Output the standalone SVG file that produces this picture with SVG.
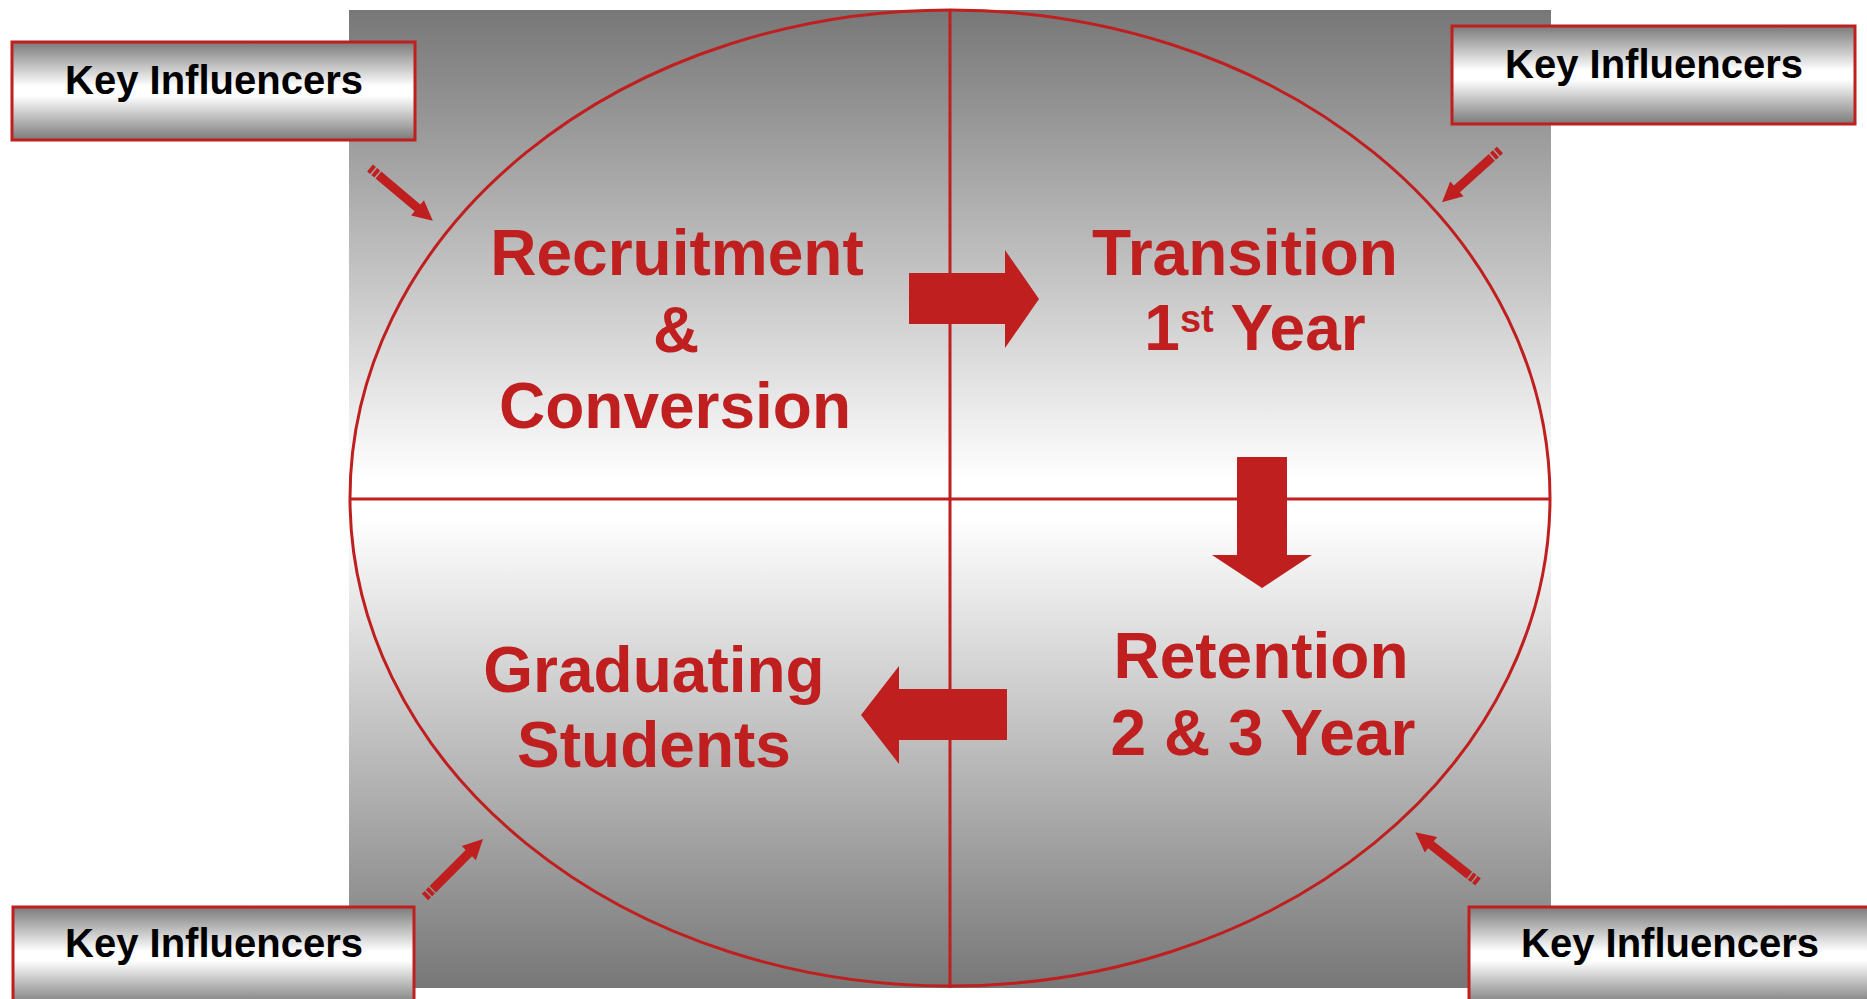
<svg xmlns="http://www.w3.org/2000/svg" width="1867" height="999" viewBox="0 0 1867 999">
<defs>
<linearGradient id="bg" x1="0" y1="0" x2="0" y2="1">
<stop offset="0" stop-color="#777777"/>
<stop offset="0.48" stop-color="#ffffff"/>
<stop offset="0.52" stop-color="#ffffff"/>
<stop offset="1" stop-color="#777777"/>
</linearGradient>
<linearGradient id="boxg" x1="0" y1="0" x2="0" y2="1">
<stop offset="0" stop-color="#7a7a7a"/>
<stop offset="0.45" stop-color="#ffffff"/>
<stop offset="0.55" stop-color="#ffffff"/>
<stop offset="1" stop-color="#7a7a7a"/>
</linearGradient>
</defs>
<style>
.box{fill:url(#boxg);stroke:#c01f1f;stroke-width:3}
.kt{font-family:"Liberation Sans",Arial,sans-serif;font-weight:bold;font-size:40px;fill:#000;text-anchor:middle}
.mt{font-family:"Liberation Sans",Arial,sans-serif;font-weight:bold;font-size:64px;fill:#c01f1f;text-anchor:middle}
.red{fill:#c01f1f}
.ln{stroke:#c01f1f;stroke-width:3;fill:none}
</style>
<rect x="349" y="10" width="1202" height="978" fill="url(#bg)"/>
<g id="connectors">
<ellipse class="ln" cx="950" cy="498" rx="600" ry="488"/>
<line class="ln" x1="950" y1="10" x2="950" y2="988"/>
<line class="ln" x1="350" y1="499" x2="1550" y2="499"/>
<path class="red" d="M909,273 L1005,273 L1005,250 L1039,299 L1005,348 L1005,324 L909,324 Z"/>
<path class="red" d="M1237,457 L1287,457 L1287,555 L1312,555 L1262,588 L1212,555 L1237,555 Z"/>
<path class="red" d="M1007,689 L899,689 L899,666 L861,715 L899,764 L899,740 L1007,740 Z"/>
<g transform="translate(370,168) rotate(40)"><path class="red" d="M0,-4.5 H4 V4.5 H0 Z M5.5,-4.5 H9.5 V4.5 H5.5 Z M11,-4.5 H62 V-10 L82,0 L62,10 V4.5 H11 Z"/></g>
<g transform="translate(1500,150) rotate(138)"><path class="red" d="M0,-4.5 H4 V4.5 H0 Z M5.5,-4.5 H9.5 V4.5 H5.5 Z M11,-4.5 H58 V-10 L78,0 L58,10 V4.5 H11 Z"/></g>
<g transform="translate(425,897) rotate(-45)"><path class="red" d="M0,-4.5 H4 V4.5 H0 Z M5.5,-4.5 H9.5 V4.5 H5.5 Z M11,-4.5 H62 V-10 L82,0 L62,10 V4.5 H11 Z"/></g>
<g transform="translate(1478,882) rotate(218.4)"><path class="red" d="M0,-4.5 H4 V4.5 H0 Z M5.5,-4.5 H9.5 V4.5 H5.5 Z M11,-4.5 H60 V-10 L80,0 L60,10 V4.5 H11 Z"/></g>
</g>
<g id="recruitment">
<text class="mt" x="677" y="275">Recruitment</text>
<text class="mt" x="676" y="352">&amp;</text>
<text class="mt" x="675" y="428">Conversion</text>
</g>
<g id="transition">
<text class="mt" x="1245" y="275">Transition</text>
<text class="mt" x="1255" y="350">1<tspan font-size="38" dy="-18">st</tspan><tspan dy="18"> Year</tspan></text>
</g>
<g id="retention">
<text class="mt" x="1261" y="678">Retention</text>
<text class="mt" x="1263" y="755">2 &amp; 3 Year</text>
</g>
<g id="graduating">
<text class="mt" x="654" y="692">Graduating</text>
<text class="mt" x="654" y="767">Students</text>
</g>
<g id="ki-tl">
<rect class="box" x="12" y="42" width="403" height="98"/>
<text class="kt" x="214" y="94">Key Influencers</text>
</g>
<g id="ki-tr">
<rect class="box" x="1452" y="26" width="403" height="98"/>
<text class="kt" x="1654" y="78">Key Influencers</text>
</g>
<g id="ki-bl">
<rect class="box" x="13" y="907" width="401" height="98"/>
<text class="kt" x="214" y="957">Key Influencers</text>
</g>
<g id="ki-br">
<rect class="box" x="1469" y="907" width="410" height="98"/>
<text class="kt" x="1670" y="957">Key Influencers</text>
</g>
</svg>
